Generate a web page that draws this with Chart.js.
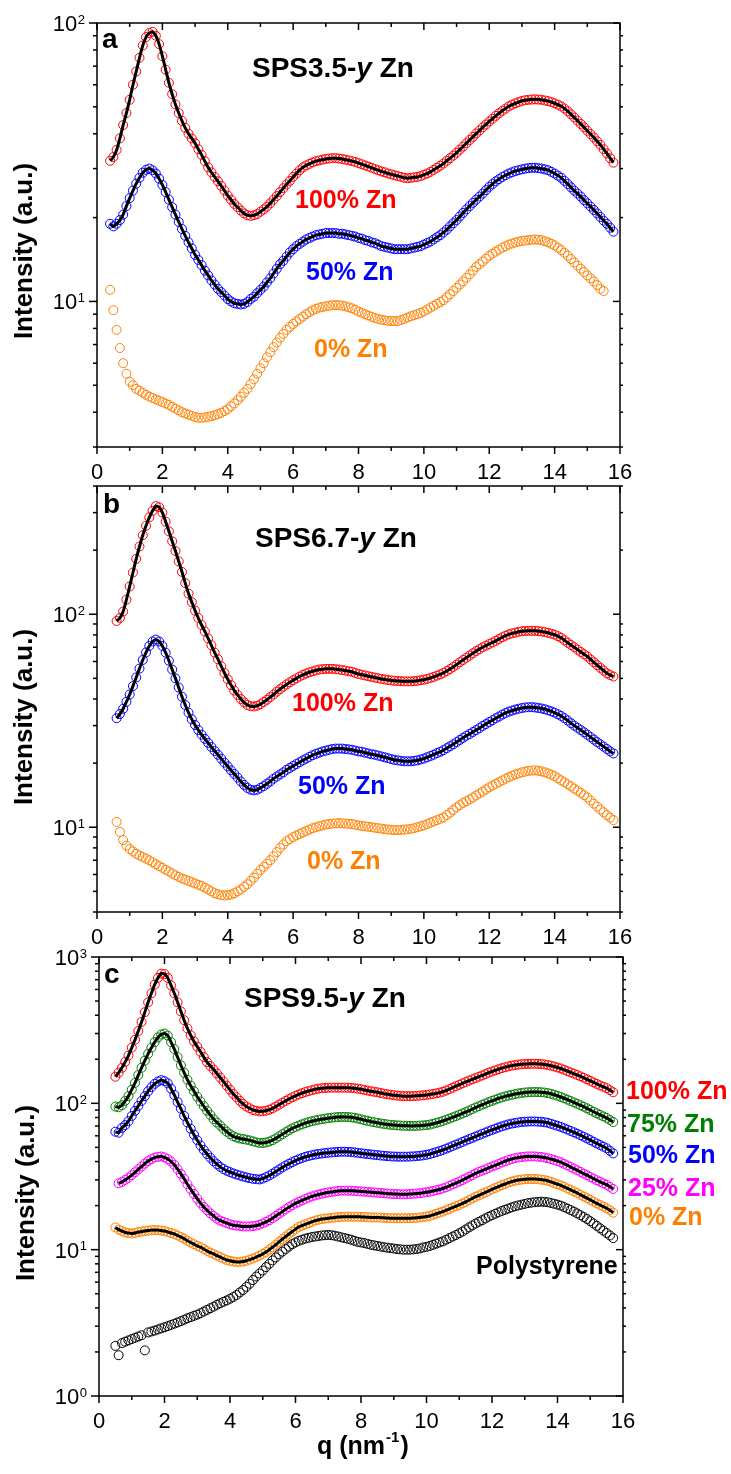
<!DOCTYPE html>
<html>
<head>
<meta charset="utf-8">
<script src="https://cdn.jsdelivr.net/npm/chart.js@4"></script>
<style>
  html, body { margin: 0; padding: 0; background: #fff; }
  #wrap { position: relative; width: 731px; height: 1474px; }
  #wrap canvas { position: absolute; left: 0; top: 0; }
</style>
</head>
<body>
<div id="wrap">
  <canvas id="panelA" width="731" height="1474"></canvas>
  <canvas id="panelB" width="731" height="1474"></canvas>
  <canvas id="panelC" width="731" height="1474"></canvas>
</div>
<script>
// two interleaved q grids (nm^-1)
const qEven = [0.4,0.6,0.8,1.0,1.2,1.4,1.6,1.8,2.0,2.2,
  2.4,2.6,2.8,3.0,3.2,3.4,3.6,3.8,4.0,4.2,
  4.4,4.6,4.8,5.0,5.2,5.4,5.6,5.8,6.0,6.2,
  6.4,6.6,6.8,7.0,7.2,7.4,7.6,7.8,8.0,8.2,
  8.4,8.6,8.8,9.0,9.2,9.4,9.6,9.8,10.0,10.2,
  10.4,10.6,10.8,11.0,11.2,11.4,11.6,11.8,12.0,12.2,
  12.4,12.6,12.8,13.0,13.2,13.4,13.6,13.8,14.0,14.2,
  14.4,14.6,14.8,15.0,15.2,15.4,15.6,15.8];
const qOdd = [0.5,0.7,0.9,1.1,1.3,1.5,1.7,1.9,2.1,2.3,
  2.5,2.7,2.9,3.1,3.3,3.5,3.7,3.9,4.1,4.3,
  4.5,4.7,4.9,5.1,5.3,5.5,5.7,5.9,6.1,6.3,
  6.5,6.7,6.9,7.1,7.3,7.5,7.7,7.9,8.1,8.3,
  8.5,8.7,8.9,9.1,9.3,9.5,9.7,9.9,10.1,10.3,
  10.5,10.7,10.9,11.1,11.3,11.5,11.7,11.9,12.1,12.3,
  12.5,12.7,12.9,13.1,13.3,13.5,13.7,13.9,14.1,14.3,
  14.5,14.7,14.9,15.1,15.3,15.5,15.7];

// ---- SPS3.5-y Zn : a* on qEven, a*h on qOdd
const a100 = [32,35,43,53,67,83,92,90,76,61,
  51,44.5,40,37,33.6,30.3,28,26,24,22.4,
  21.2,20.4,20.4,21,21.9,23.2,24.7,26.3,28,29.6,
  30.8,31.6,32.1,32.5,32.7,32.6,32.3,31.9,31.4,30.8,
  30.2,29.6,29.1,28.6,28.2,27.8,27.8,28,28.5,29.2,
  30.2,31.3,32.7,34.2,36,38,40.1,42.2,44.3,46.4,
  48.4,50.2,51.5,52.5,53,53.2,53,52.4,51.5,50.2,
  48.2,45.8,43.4,41,38.8,36.5,34,31.5];
const a100h = [33,38.5,47.5,60,75,89,93,84,68,55.5,
  47.5,42,38.5,35.2,31.9,29.1,27,25,23.2,21.8,
  20.7,20.3,20.6,21.4,22.5,23.9,25.5,27.1,28.8,30.3,
  31.2,31.9,32.3,32.6,32.7,32.5,32.1,31.7,31.1,30.5,
  29.9,29.3,28.8,28.4,28,27.7,27.9,28.2,28.8,29.7,
  30.7,32,33.4,35.1,37,39,41.1,43.2,45.3,47.4,
  49.3,50.9,52,52.8,53.1,53.1,52.7,52,50.9,49.3,
  47,44.6,42.2,39.9,37.6,35.2,32.7];
const a50 = [19,19,20.5,23.5,26.5,29,30,28.8,26.2,23.2,
  20.5,18.2,16.3,14.7,13.5,12.4,11.5,10.8,10.2,9.85,
  9.75,9.95,10.4,11,11.7,12.6,13.6,14.5,15.4,16.1,
  16.7,17.1,17.4,17.6,17.6,17.5,17.4,17.2,16.9,16.6,
  16.3,16,15.7,15.5,15.4,15.4,15.5,15.7,16,16.4,
  17,17.7,18.6,19.6,20.8,22,23.2,24.4,25.8,27,
  28,28.8,29.4,29.8,30.1,30.2,30,29.6,28.8,27.8,
  26.4,25,23.8,22.5,21.3,20.1,19,17.8];
const a50h = [18.6,19.6,22,25,27.8,29.7,29.6,27.6,24.7,21.8,
  19.3,17.2,15.5,14.1,12.9,11.9,11.1,10.5,10,9.8,
  9.8,10.2,10.7,11.3,12.1,13.1,14,15,15.8,16.4,
  16.9,17.3,17.5,17.6,17.6,17.5,17.3,17.1,16.8,16.5,
  16.2,15.8,15.6,15.4,15.4,15.4,15.6,15.8,16.2,16.7,
  17.3,18.1,19.1,20.2,21.4,22.6,23.8,25.1,26.4,27.5,
  28.4,29.1,29.6,30,30.2,30.1,29.8,29.2,28.3,27.1,
  25.7,24.4,23.1,21.9,20.7,19.5,18.4];
const a0 = [11,7.9,6,5.15,4.85,4.7,4.55,4.45,4.35,4.25,
  4.12,4.0,3.92,3.84,3.82,3.85,3.9,3.98,4.1,4.3,
  4.55,4.85,5.25,5.75,6.3,6.85,7.4,7.9,8.3,8.65,
  9.0,9.3,9.5,9.6,9.7,9.7,9.6,9.45,9.2,9.0,
  8.8,8.65,8.55,8.5,8.5,8.65,8.85,9.0,9.2,9.5,
  9.8,10.1,10.6,11.2,11.8,12.5,13.3,13.9,14.6,15.1,
  15.6,16,16.3,16.5,16.6,16.7,16.6,16.3,15.9,15.3,
  14.6,13.8,13.1,12.4,11.8,11.1,null,null];
const a0h = [9.3,6.8,5.5,5.0,4.78,4.62,4.5,4.4,4.3,4.18,
  4.06,3.96,3.88,3.82,3.83,3.87,3.94,4.04,4.2,4.42,
  4.7,5.05,5.5,6.0,6.57,7.12,7.65,8.1,8.48,8.82,
  9.15,9.4,9.55,9.65,9.7,9.65,9.53,9.33,9.1,8.9,
  8.72,8.6,8.52,8.5,8.57,8.75,8.92,9.1,9.35,9.65,
  9.95,10.35,10.9,11.5,12.15,12.9,13.6,14.25,14.85,15.35,
  15.8,16.15,16.4,16.55,16.65,16.65,16.45,16.1,15.6,14.95,
  14.2,13.45,12.75,12.1,11.45,10.9,null];

// ---- SPS6.7-y Zn : b* on qEven, b*h on qOdd
const b100 = [null,93,103,135,182,235,285,322,300,245,
  198,158,125,104,89,77,66,57,49.5,43.8,
  40,37.5,36.9,37.8,39.7,42,44.5,46.8,49,51,
  52.7,54,55,55.4,55.4,55,54.4,53.7,52.4,51.6,
  50.8,50.1,49.4,48.9,48.6,48.4,48.4,48.7,49.3,50.2,
  51.5,53,55.3,58,61,64,67.2,70,72.5,75,
  78,80.5,82,83.2,83.6,83.6,83,81.8,80.2,77.5,
  73.5,70,66.5,63.3,59.5,56,52.8,51];
const b100h = [null,96,117,157,208,260,306,318,272,220,
  177,140,114,96,83,71.5,61.5,53,46.5,41.8,
  38.6,37,37.2,38.7,40.8,43.3,45.7,47.9,50,51.9,
  53.4,54.5,55.2,55.4,55.2,54.7,54,53,52,51.2,
  50.4,49.7,49.1,48.7,48.5,48.4,48.5,49,49.7,50.8,
  52.2,54.1,56.6,59.5,62.5,65.6,68.6,71.2,73.7,76.5,
  79.3,81.3,82.7,83.4,83.6,83.3,82.4,81,78.9,75.5,
  71.7,68.2,64.9,61.4,57.7,54.4,51.8];
const b50 = [null,32.5,36,42,50.5,61,71,76,71,60.5,
  50,41,34.5,30.2,27.2,24.9,22.8,21,19.3,17.8,
  16.4,15.3,14.9,15.3,16,16.9,17.7,18.6,19.4,20.2,
  21,21.8,22.4,22.9,23.3,23.4,23.3,23.1,22.7,22.4,
  22,21.7,21.3,20.9,20.6,20.4,20.4,20.6,21,21.6,
  22.3,23,24,25.1,26.3,27.4,28.6,29.9,31.2,32.5,
  33.8,34.9,35.7,36.3,36.6,36.5,36.1,35.4,34.5,33.3,
  31.7,30,28.6,27.2,25.8,24.5,23.3,22.2];
const b50h = [null,34,38.8,46,55.6,66.2,74.5,74.5,66,55,
  45.3,37.5,32.1,28.6,26,23.8,21.9,20.1,18.5,17.1,
  15.8,15,15,15.6,16.4,17.3,18.1,19,19.8,20.6,
  21.4,22.1,22.7,23.1,23.4,23.4,23.2,22.9,22.6,22.2,
  21.9,21.5,21.1,20.7,20.5,20.4,20.5,20.8,21.3,21.9,
  22.6,23.5,24.5,25.7,26.9,28,29.2,30.5,31.8,33.1,
  34.4,35.3,36,36.5,36.6,36.3,35.8,35,33.9,32.5,
  30.8,29.3,27.9,26.5,25.1,23.9,22.7];
const b0 = [null,10.6,8.7,7.9,7.5,7.25,7.0,6.7,6.45,6.2,
  5.95,5.75,5.6,5.45,5.3,5.1,4.9,4.8,4.8,4.9,
  5.1,5.4,5.8,6.3,6.75,7.3,8.0,8.6,9.0,9.3,
  9.6,9.9,10.1,10.3,10.4,10.45,10.4,10.35,10.2,10.1,
  10.0,9.9,9.8,9.72,9.7,9.75,9.82,10.0,10.2,10.5,
  10.8,11.1,11.7,12.4,13,13.5,14.1,14.7,15.4,16,
  16.6,17.2,17.7,18.1,18.4,18.5,18.3,17.9,17.4,16.6,
  15.9,15.2,14.5,13.8,12.9,12.1,11.4,10.8];
const b0h = [null,9.5,8.2,7.7,7.37,7.12,6.85,6.57,6.32,6.07,
  5.85,5.67,5.52,5.37,5.2,5.0,4.85,4.78,4.83,5.0,
  5.25,5.6,6.05,6.52,7.0,7.65,8.3,8.8,9.15,9.45,
  9.75,10.0,10.2,10.35,10.43,10.43,10.38,10.28,10.15,10.05,
  9.95,9.85,9.76,9.7,9.72,9.78,9.9,10.1,10.35,10.65,
  10.95,11.4,12.05,12.7,13.25,13.8,14.4,15.05,15.7,16.3,
  16.9,17.45,17.9,18.25,18.45,18.4,18.1,17.65,17,16.25,
  15.55,14.85,14.15,13.35,12.5,11.75,11.1];

// ---- SPS9.5-y Zn and polystyrene : c* on qOdd, c*h on qEven
const c100 = [152,175,212,272,360,490,647,770,720,565,
  425,325,265,225,191,170,150,132,116,104,
  95,90,88,89,92.5,98,104,110,115,119.5,
  123,126,127.5,128,128,128,127.5,126,123.5,121,
  119,116.5,114.5,113,112,112,112.5,113.5,115,117,
  120,125,131,137,143,149,155,162,168,174,
  179,182.5,185,186,186.5,185.5,183,178.5,173,166,
  159.5,153,146,139,132.5,127,119];
const c100h = [null,162,192,240,312,420,565,720,765,640,
  490,370,292,244,207,180,160,141,124,110,
  99,92.5,89,88.3,90.5,95,101,107,112.5,117.3,
  121.3,124.6,126.8,127.8,128,128,127.8,126.8,124.8,122.2,
  120,117.7,115.5,113.7,112.5,112,112.2,113,114.2,116,
  118.4,122.4,128,134,140,146,152,158.5,165,171,
  176.5,181,184,185.6,186.3,186,184.3,180.8,175.8,169.5,
  162.8,156.2,149.5,142.5,135.7,129.7,123,null];
const c75 = [95,97,112,138,175,218,262,295,290,235,
  182,145,121,103,89,78,70.5,64,59.5,57.5,
  56.5,55,53.6,54,56,59.5,63.5,67.4,70.5,73.2,
  75.5,77.2,78.6,79.8,80.6,80.8,80.2,78.8,76.8,75,
  73.6,72.3,71.3,70.7,70.3,70.1,70.2,70.7,71.6,73.5,
  75.8,78.7,81.8,85.3,89.2,93.6,97.8,102,106,109.8,
  113,115.7,117.8,119,119.5,119.2,117.6,114.5,110.5,106,
  101.5,97,92.5,87.6,83.4,79.5,74.5];
const c75h = [null,94,104,124,156,196,240,282,300,262,
  207,162,132,111,95.5,83.3,74,67,61.5,58.4,
  57,55.8,54.2,53.6,54.8,57.6,61.5,65.5,69,71.9,
  74.4,76.4,77.9,79.2,80.2,80.8,80.6,79.6,77.8,75.9,
  74.3,72.9,71.8,71,70.5,70.2,70.1,70.4,71.1,72.5,
  74.6,77.2,80.2,83.5,87.2,91.4,95.7,99.9,104,108,
  111.5,114.4,116.8,118.5,119.3,119.4,118.5,116.2,112.5,108.3,
  103.8,99.2,94.8,90,85.5,81.4,77,null];
const c50 = [64,68,75.5,89,104,121,136,144,137,114,
  92,74,61,51.5,45,40.2,36.8,34.6,33.2,32.1,
  31.2,30.5,30.2,31.3,33.1,35.3,37.6,39.6,41.5,43.1,
  44.2,45.1,45.7,46.2,46.6,46.7,46.5,45.9,45.3,44.8,
  44.3,43.8,43.4,43.2,43.2,43.3,43.6,44.1,45,46.4,
  48,50,52.2,54.5,56.9,59.3,61.9,64.5,67.1,69.6,
  71.8,73.4,74.6,75.1,75.2,74.8,73.6,71.4,69,66.2,
  63.4,60.6,57.6,54.6,51.9,49.3,45.5];
const c50h = [null,63,71,82,96,112,129,141,142,126,
  102,82,67,56,48,42.5,38.4,35.6,33.9,32.6,
  31.6,30.8,30.3,30.6,32.1,34.2,36.5,38.6,40.6,42.3,
  43.7,44.7,45.4,46,46.4,46.7,46.6,46.2,45.6,45,
  44.5,44,43.6,43.3,43.2,43.2,43.4,43.8,44.5,45.7,
  47.2,49,51.1,53.3,55.7,58.1,60.6,63.2,65.8,68.4,
  70.7,72.7,74,74.9,75.2,75,74.3,72.5,70.2,67.6,
  64.8,62,59.1,56.1,53.2,50.6,47.4,null];
const c25 = [null,29,31,33.8,37,40.3,42.6,43.3,41.6,38,
  33,28,24,20.8,18.6,17,15.8,15.2,14.7,14.5,
  14.4,14.5,14.8,15.5,16.4,17.6,18.9,20.1,21.2,22.2,
  23.1,23.8,24.4,24.8,25.2,25.3,25.3,25.1,24.9,24.7,
  24.5,24.3,24.1,24,23.9,24,24.2,24.5,24.9,25.5,
  26.2,27.3,28.5,29.9,31.5,33.2,34.7,36.2,37.7,39.4,
  41,42.2,43,43.4,43.4,43,42.2,41,39.6,37.7,
  35.8,34,32.3,30.6,29.1,27.8,26];
const c25h = [null,28.4,30,32.3,35.4,38.7,41.6,43.1,42.7,40,
  35.5,30.5,25.9,22.3,19.6,17.7,16.3,15.5,14.9,14.6,
  14.4,14.4,14.6,15.1,15.9,17,18.2,19.5,20.7,21.7,
  22.7,23.5,24.1,24.6,25,25.3,25.3,25.2,25,24.8,
  24.6,24.4,24.2,24,23.9,23.9,24.1,24.3,24.7,25.2,
  25.8,26.7,27.9,29.2,30.7,32.3,34,35.4,37,38.5,
  40.2,41.6,42.6,43.2,43.4,43.2,42.6,41.6,40.3,38.6,
  36.7,34.9,33.1,31.4,29.8,28.4,26.9,null];
const c0 = [14.2,13.4,13,13,13.3,13.5,13.6,13.5,13.2,12.8,
  12.2,11.5,10.9,10.4,9.8,9.35,8.9,8.5,8.3,8.25,
  8.4,8.7,9.1,9.65,10.4,11.3,12.3,13.3,14.3,14.9,
  15.5,16,16.3,16.5,16.7,16.8,16.8,16.8,16.7,16.6,
  16.6,16.5,16.4,16.4,16.4,16.4,16.5,16.7,17,17.6,
  18.2,19,19.8,20.7,21.8,23,24.1,25.2,26.4,27.6,
  28.7,29.6,30.1,30.4,30.4,30.1,29.6,28.5,27.5,26.2,
  25,23.7,22.5,21.3,20.2,19.2,17.9];
const c0h = [null,13.7,13.1,12.9,13.2,13.4,13.6,13.6,13.4,13,
  12.5,11.9,11.2,10.6,10.1,9.55,9.1,8.7,8.4,8.25,
  8.3,8.55,8.9,9.35,10,10.8,11.8,12.8,13.8,14.6,
  15.2,15.8,16.2,16.4,16.6,16.75,16.8,16.8,16.75,16.65,
  16.6,16.55,16.45,16.4,16.4,16.4,16.45,16.6,16.85,17.3,
  17.9,18.6,19.4,20.2,21.2,22.4,23.5,24.6,25.8,27,
  28.1,29.2,29.9,30.3,30.4,30.3,29.9,29.1,28,26.9,
  25.6,24.4,23.1,21.9,20.7,19.7,18.6,null];
const cPS = [2.2,2.3,2.4,2.5,2.6,2.72,2.8,2.9,3.0,3.12,
  3.25,3.4,3.53,3.68,3.88,4.08,4.3,4.5,4.75,5.1,
  5.57,6.2,6.87,7.6,8.45,9.3,10.1,10.9,11.5,11.9,
  12.2,12.4,12.55,12.55,12.3,12.0,11.7,11.3,11.1,10.8,
  10.6,10.4,10.25,10.1,10.0,10.0,10.1,10.35,10.6,11,
  11.4,12,12.6,13.3,14.2,15.1,15.9,16.8,17.6,18.4,
  19.1,19.8,20.3,20.8,21.1,21.3,21.1,20.6,20.0,19.1,
  18.2,17.2,16.2,15.1,14,13,12];
const cPSh = [null,1.9,2.35,2.45,2.55,2.05,2.76,2.85,2.95,3.06,
  3.18,3.32,3.46,3.6,3.78,3.98,4.2,4.4,4.62,4.9,
  5.3,5.85,6.55,7.2,8.0,8.85,9.7,10.5,11.2,11.7,
  12.05,12.3,12.5,12.6,12.45,12.15,11.85,11.5,11.2,10.95,
  10.7,10.5,10.32,10.18,10.05,10.0,10.05,10.2,10.45,10.8,
  11.2,11.7,12.3,12.95,13.75,14.65,15.5,16.35,17.2,18,
  18.75,19.45,20.05,20.55,20.95,21.2,21.2,20.85,20.3,19.55,
  18.65,17.7,16.7,15.65,14.55,13.5,12.5,null];

const RED = '#ff0000', BLUE = '#0000ff', ORANGE = '#ff8000',
      GREEN = '#008000', MAGENTA = '#ff00ff', BLACK = '#000000';
const FONT = '"Liberation Sans", Arial, Helvetica, sans-serif';
const W = 731, H = 1474;

// join the two samplings of one curve into a sorted point list
function merge(qa, va, qb, vb) {
  const p = [];
  qa.forEach((x, i) => { if (va[i] != null) p.push({ x, y: va[i] }); });
  qb.forEach((x, i) => { if (vb[i] != null) p.push({ x, y: vb[i] }); });
  return p.sort((u, v) => u.x - v.x);
}

// open circles for the measured curves
function dots(points, color) {
  return { data: points, showLine: false, order: 1,
    pointStyle: 'circle', pointRadius: 4.5, pointBorderWidth: 1,
    pointBorderColor: color, pointBackgroundColor: 'rgba(0,0,0,0)' };
}
// black fit curve
function fit(points) {
  return { data: points, showLine: true, order: 0,
    borderColor: BLACK, borderWidth: 3, pointRadius: 0, tension: 0.2, fill: false };
}

function seg(ctx, x1, y1, x2, y2) {
  ctx.beginPath(); ctx.moveTo(x1, y1); ctx.lineTo(x2, y2); ctx.stroke();
}

// bold text made of runs, e.g. normal + italic
function runs(ctx, parts, x, y, size, color) {
  let cx = x;
  ctx.fillStyle = color;
  ctx.textAlign = 'left';
  ctx.textBaseline = 'alphabetic';
  for (const [t, style] of parts) {
    ctx.font = `${style || ''} bold ${size}px ${FONT}`;
    ctx.fillText(t, cx, y);
    cx += ctx.measureText(t).width;
  }
}

// frame, ticks, labels and annotations of one panel
const panelDecor = {
  id: 'panelDecor',
  afterDraw(chart, args, o) {
    const { ctx, chartArea: a, scales: { x, y } } = chart;
    ctx.save();
    ctx.strokeStyle = BLACK;
    ctx.fillStyle = BLACK;
    ctx.lineWidth = 1.5;
    ctx.strokeRect(a.left, a.top, a.right - a.left, a.bottom - a.top);

    // q axis: major every 2, minor every 1
    ctx.font = `22px ${FONT}`;
    ctx.textAlign = 'center';
    ctx.textBaseline = 'alphabetic';
    for (let q = 0; q <= 16; q++) {
      const px = x.getPixelForValue(q);
      const major = q % 2 === 0;
      const len = major ? 7 : 4;
      seg(ctx, px, a.bottom, px, a.bottom + len);
      seg(ctx, px, a.top, px, a.top + len);
      if (major) ctx.fillText(String(q), px, a.bottom + 32);
    }

    // log intensity axis
    const lo = y.min, hi = y.max;
    for (let e = Math.floor(Math.log10(lo)); e <= Math.ceil(Math.log10(hi)); e++) {
      for (let m = 1; m <= 9; m++) {
        const v = m * Math.pow(10, e);
        if (v < lo * 0.999 || v > hi * 1.001) continue;
        const py = y.getPixelForValue(v);
        if (m === 1) {
          seg(ctx, a.left - 8, py, a.left, py);
          seg(ctx, a.right - 7, py, a.right, py);
          const right = a.left - 12;
          ctx.textAlign = 'left';
          ctx.font = `13px ${FONT}`;
          const we = ctx.measureText(String(e)).width;
          ctx.fillText(String(e), right - we, py + 0.5);
          ctx.font = `22px ${FONT}`;
          const wb = ctx.measureText('10').width;
          ctx.fillText('10', right - we - wb - 0.5, py + 8);
        } else {
          seg(ctx, a.left - 4, py, a.left, py);
          seg(ctx, a.right, py, a.right + 3, py);
        }
      }
    }

    // y title
    ctx.save();
    ctx.translate(o.yTitle[0], o.yTitle[1]);
    ctx.rotate(-Math.PI / 2);
    ctx.font = `bold 26px ${FONT}`;
    ctx.textAlign = 'center';
    ctx.fillText('Intensity (a.u.)', 0, 0);
    ctx.restore();

    // panel letter and sample title
    runs(ctx, [[o.letter]], o.letterAt[0], o.letterAt[1], 28, BLACK);
    runs(ctx, [[o.title + '-'], ['y', 'italic'], [' Zn']], o.titleAt[0], o.titleAt[1], 28, BLACK);

    // curve labels
    for (const l of o.labels) runs(ctx, [[l.t]], l.x, l.y, 25, l.c);

    // q title with superscript
    if (o.xTitle) {
      const [tx, ty] = o.xTitle;
      ctx.fillStyle = BLACK;
      ctx.textAlign = 'left';
      ctx.font = `bold 25px ${FONT}`;
      ctx.fillText('q (nm', tx, ty);
      let cx = tx + ctx.measureText('q (nm').width + 1;
      ctx.font = `bold 15px ${FONT}`;
      ctx.fillText('-1', cx, ty - 12);
      cx += ctx.measureText('-1').width + 1;
      ctx.font = `bold 25px ${FONT}`;
      ctx.fillText(')', cx, ty);
    }
    ctx.restore();
  }
};

function makePanel(id, box, yMin, yMax, datasets, deco) {
  return new Chart(document.getElementById(id), {
    type: 'scatter',
    data: { datasets },
    plugins: [panelDecor],
    options: {
      responsive: false,
      animation: false,
      devicePixelRatio: 1,
      events: [],
      layout: {
        autoPadding: false,
        padding: { left: box[0], top: box[1], right: W - box[2], bottom: H - box[3] }
      },
      scales: {
        x: { type: 'linear', min: 0, max: 16, display: false },
        y: { type: 'logarithmic', min: yMin, max: yMax, display: false }
      },
      plugins: { legend: { display: false }, tooltip: { enabled: false }, panelDecor: deco }
    }
  });
}

const A100 = merge(qEven, a100, qOdd, a100h), A50 = merge(qEven, a50, qOdd, a50h),
      A0 = merge(qEven, a0, qOdd, a0h);
makePanel('panelA', [97, 23, 620, 447], 3, 100, [
  fit(A100), fit(A50),
  dots(A100, RED), dots(A50, BLUE), dots(A0, ORANGE)
], {
  letter: 'a', letterAt: [102, 48], title: 'SPS3.5', titleAt: [252, 77],
  yTitle: [32, 251],
  labels: [
    { t: '100% Zn', x: 295, y: 208, c: RED },
    { t: '50% Zn', x: 306, y: 280, c: BLUE },
    { t: '0% Zn', x: 314, y: 357, c: ORANGE }
  ]
});

const B100 = merge(qEven, b100, qOdd, b100h), B50 = merge(qEven, b50, qOdd, b50h),
      B0 = merge(qEven, b0, qOdd, b0h);
makePanel('panelB', [97, 486, 620, 912], 4, 400, [
  fit(B100), fit(B50),
  dots(B100, RED), dots(B50, BLUE), dots(B0, ORANGE)
], {
  letter: 'b', letterAt: [103, 513], title: 'SPS6.7', titleAt: [255, 547],
  yTitle: [32, 717],
  labels: [
    { t: '100% Zn', x: 292, y: 711, c: RED },
    { t: '50% Zn', x: 298, y: 794, c: BLUE },
    { t: '0% Zn', x: 307, y: 869, c: ORANGE }
  ]
});

const C100 = merge(qOdd, c100, qEven, c100h), C75 = merge(qOdd, c75, qEven, c75h),
      C50 = merge(qOdd, c50, qEven, c50h), C25 = merge(qOdd, c25, qEven, c25h),
      C0 = merge(qOdd, c0, qEven, c0h), CPS = merge(qOdd, cPS, qEven, cPSh);
makePanel('panelC', [99, 957, 623, 1396], 1, 1000, [
  fit(C100), fit(C75), fit(C50), fit(C25), fit(C0),
  dots(C100, RED), dots(C75, GREEN), dots(C50, BLUE),
  dots(C25, MAGENTA), dots(C0, ORANGE), dots(CPS, BLACK)
], {
  letter: 'c', letterAt: [104, 983], title: 'SPS9.5', titleAt: [244, 1007],
  yTitle: [34, 1193], xTitle: [317, 1454],
  labels: [
    { t: '100% Zn', x: 626, y: 1099, c: RED },
    { t: '75% Zn', x: 627, y: 1132, c: GREEN },
    { t: '50% Zn', x: 628, y: 1163, c: BLUE },
    { t: '25% Zn', x: 628, y: 1196, c: MAGENTA },
    { t: '0% Zn', x: 629, y: 1225, c: ORANGE },
    { t: 'Polystyrene', x: 476, y: 1274, c: BLACK }
  ]
});
</script>
</body>
</html>
